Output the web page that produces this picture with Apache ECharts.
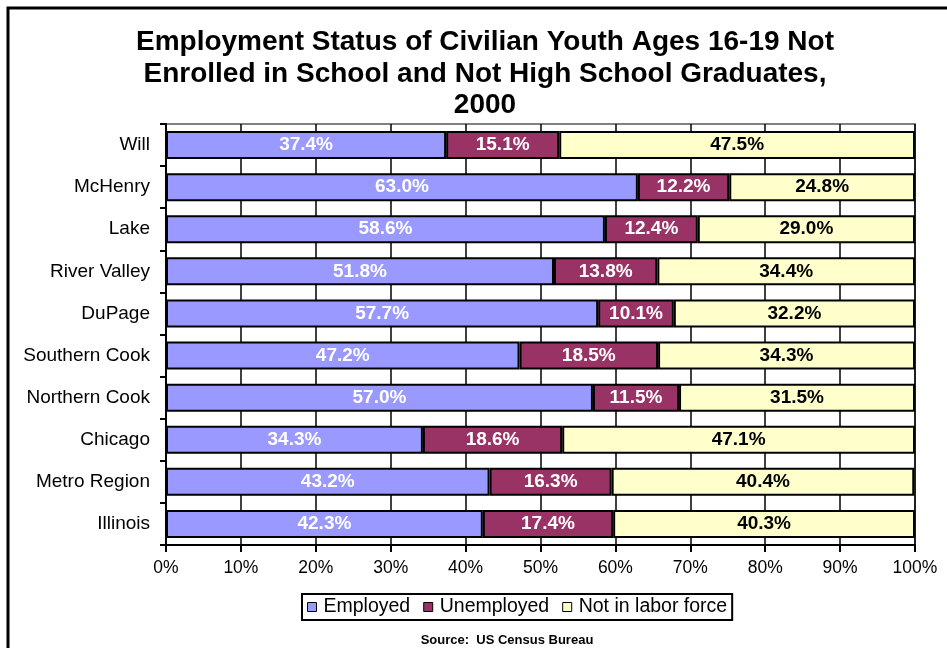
<!DOCTYPE html>
<html>
<head>
<meta charset="utf-8">
<script src="https://cdn.jsdelivr.net/npm/echarts@6/dist/echarts.min.js"></script>
<style>
  html, body { margin: 0; padding: 0; background: #fff; }
  #chart { width: 947px; height: 648px; }
</style>
</head>
<body>
<div id="chart"></div>
<script>
const regions = ['Will', 'McHenry', 'Lake', 'River Valley', 'DuPage', 'Southern Cook',
  'Northern Cook', 'Chicago', 'Metro Region', 'Illinois'];
const employed = [37.4, 63.0, 58.6, 51.8, 57.7, 47.2, 57.0, 34.3, 43.2, 42.3];
const unemployed = [15.1, 12.2, 12.4, 13.8, 10.1, 18.5, 11.5, 18.6, 16.3, 17.4];
const notInLabor = [47.5, 24.8, 29.0, 34.4, 32.2, 34.3, 31.5, 47.1, 40.4, 40.3];

const font = 'Liberation Sans, Arial, sans-serif';

const chart = echarts.init(document.getElementById('chart'));

function barSeries(name, data, color, labelColor) {
  return {
    name: name,
    type: 'bar',
    stack: 'total',
    data: data,
    barWidth: 28,
    itemStyle: { color: color, borderColor: '#000', borderWidth: 2 },
    label: {
      show: true,
      position: 'inside',
      formatter: p => p.value.toFixed(1) + '%',
      color: labelColor,
      fontFamily: font,
      fontWeight: 'bold',
      fontSize: 19
    }
  };
}

chart.setOption({
  animation: false,
  title: {
    text: 'Employment Status of Civilian Youth Ages 16-19 Not\nEnrolled in School and Not High School Graduates,\n2000',
    left: 480,
    textAlign: 'center',
    top: 22,
    textStyle: {
      fontFamily: font,
      fontWeight: 'bold',
      fontSize: 28,
      lineHeight: 31.5,
      color: '#000'
    }
  },
  graphic: [{
    type: 'rect',
    shape: { x: 8, y: 8, width: 960, height: 660 },
    style: { fill: 'none', stroke: '#000', lineWidth: 3 },
    silent: true
  }, {
    type: 'text',
    x: 507,
    y: 640,
    style: {
      text: 'Source:  US Census Bureau',
      align: 'center',
      verticalAlign: 'middle',
      fontFamily: font,
      fontWeight: 'bold',
      fontSize: 13,
      fill: '#000'
    }
  }],
  legend: {
    data: ['Employed', 'Unemployed', 'Not in labor force'],
    left: 302,
    top: 594,
    padding: [3, 5, 3, 5],
    itemGap: 13,
    itemWidth: 9,
    itemHeight: 9,
    borderColor: '#000',
    borderWidth: 2,
    icon: 'rect',
    itemStyle: { borderColor: '#000', borderWidth: 1 },
    textStyle: { fontFamily: font, fontSize: 19.5, color: '#000', padding: [0, 0, 0, 2] }
  },
  grid: {
    left: 166,
    right: 32,
    top: 124,
    bottom: 103,
    show: true,
    borderColor: '#808080',
    borderWidth: 2,
    backgroundColor: 'transparent'
  },
  xAxis: {
    type: 'value',
    min: 0,
    max: 100,
    interval: 10,
    axisLine: { show: true, lineStyle: { color: '#000', width: 2 } },
    axisTick: { show: true, length: 7, lineStyle: { color: '#000', width: 2 } },
    splitLine: { show: true, lineStyle: { color: '#000', width: 1.5 } },
    axisLabel: {
      formatter: '{value}%',
      fontFamily: font,
      fontSize: 17.5,
      color: '#000',
      margin: 14
    }
  },
  yAxis: {
    type: 'category',
    data: regions,
    inverse: true,
    axisLine: { show: true, lineStyle: { color: '#000', width: 2 } },
    axisTick: { show: true, length: 6, lineStyle: { color: '#000', width: 2 } },
    axisLabel: {
      fontFamily: font,
      fontSize: 19,
      color: '#000',
      margin: 16
    }
  },
  series: [
    barSeries('Employed', employed, '#9999FF', '#fff'),
    barSeries('Unemployed', unemployed, '#993366', '#fff'),
    barSeries('Not in labor force', notInLabor, '#FFFFCC', '#000')
  ]
});
</script>
</body>
</html>
